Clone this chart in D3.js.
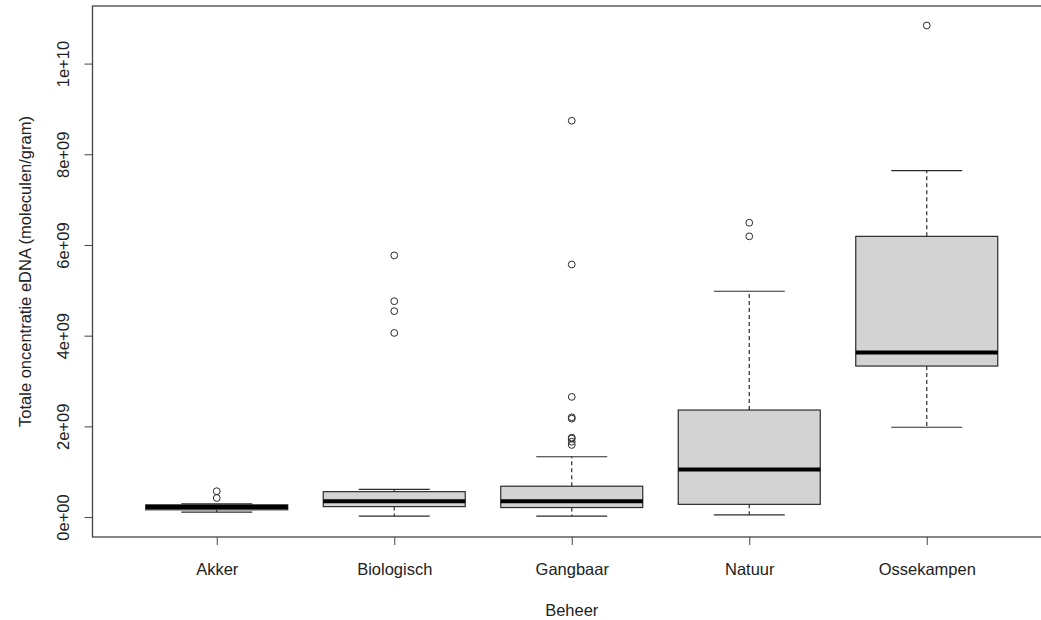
<!DOCTYPE html>
<html>
<head>
<meta charset="utf-8">
<script src="https://cdn.jsdelivr.net/npm/d3@7"></script>
<style>
  body { margin: 0; background: #fff; }
  text { font-family: "Liberation Sans", Arial, sans-serif; fill: #222; }
</style>
</head>
<body>
<script>

// values (molecules/gram)
var categories = ["Akker", "Biologisch", "Gangbaar", "Natuur", "Ossekampen"];
var whiskerLow  = [0.11e9, 0.02e9, 0.02e9, 0.05e9, 1.98e9];
var quart1      = [0.16e9, 0.23e9, 0.21e9, 0.28e9, 3.33e9];
var medians     = [0.22e9, 0.35e9, 0.35e9, 1.05e9, 3.63e9];
var quart3      = [0.27e9, 0.56e9, 0.68e9, 2.36e9, 6.19e9];
var whiskerHigh = [0.29e9, 0.61e9, 1.33e9, 4.98e9, 7.64e9];
var outliers = [
  [0.57e9, 0.42e9],
  [5.77e9, 4.76e9, 4.54e9, 4.06e9],
  [8.74e9, 5.57e9, 2.65e9, 2.20e9, 2.17e9, 1.75e9, 1.73e9, 1.66e9, 1.59e9],
  [6.49e9, 6.19e9],
  [10.84e9]
];
var yTicks = [0, 2e9, 4e9, 6e9, 8e9, 10e9];
var yTickLabels = ["0e+00", "2e+09", "4e+09", "6e+09", "8e+09", "1e+10"];

var svgWidth = 1041, svgHeight = 620;
var plot = { left: 92.5, top: 6, bottom: 537 };
var fontSize = "16.5px";

var svg = d3.select("body").append("svg")
    .attr("width", svgWidth)
    .attr("height", svgHeight);

var xScale = d3.scaleLinear()
    .domain([0.3, 5.7])
    .range([plot.left, plot.left + 5.4 * 177.5]);

var yScale = d3.scaleLinear()
    .domain([-0.44e9, 11.27e9])
    .range([plot.bottom, plot.top]);

var halfBox = xScale(1.4) - xScale(1);
var halfStaple = halfBox / 2;
var lineColor = "#2b2b2b";

// boxes
var boxes = svg.selectAll("g.box")
    .data(categories)
    .enter()
    .append("g")
    .attr("class", "box");

boxes.each(function(c, i) {
    var g = d3.select(this);
    var cx = xScale(i + 1);

    // whiskers
    g.append("line")
        .attr("x1", cx).attr("x2", cx)
        .attr("y1", yScale(quart3[i])).attr("y2", yScale(whiskerHigh[i]))
        .attr("stroke", lineColor).attr("stroke-width", 1.2)
        .attr("stroke-dasharray", "4,3");
    g.append("line")
        .attr("x1", cx).attr("x2", cx)
        .attr("y1", yScale(quart1[i])).attr("y2", yScale(whiskerLow[i]))
        .attr("stroke", lineColor).attr("stroke-width", 1.2)
        .attr("stroke-dasharray", "4,3");

    // staples
    [whiskerHigh[i], whiskerLow[i]].forEach(function(v) {
        g.append("line")
            .attr("x1", cx - halfStaple).attr("x2", cx + halfStaple)
            .attr("y1", yScale(v)).attr("y2", yScale(v))
            .attr("stroke", lineColor).attr("stroke-width", 1.2);
    });

    g.append("rect")
        .attr("x", cx - halfBox)
        .attr("y", yScale(quart3[i]))
        .attr("width", halfBox * 2)
        .attr("height", yScale(quart1[i]) - yScale(quart3[i]))
        .attr("fill", "#d3d3d3")
        .attr("stroke", lineColor)
        .attr("stroke-width", 1.2);

    g.append("line")
        .attr("x1", cx - halfBox).attr("x2", cx + halfBox)
        .attr("y1", yScale(medians[i])).attr("y2", yScale(medians[i]))
        .attr("stroke", "#000").attr("stroke-width", 4);

    g.selectAll("circle")
        .data(outliers[i])
        .enter()
        .append("circle")
        .attr("cx", cx)
        .attr("cy", d => yScale(d))
        .attr("r", 3.4)
        .attr("fill", "none")
        .attr("stroke", lineColor)
        .attr("stroke-width", 1);
});

// frame
svg.append("rect")
    .attr("x", plot.left)
    .attr("y", plot.top)
    .attr("width", xScale(5.7) - plot.left)
    .attr("height", plot.bottom - plot.top)
    .attr("fill", "none")
    .attr("stroke", "#444")
    .attr("stroke-width", 1.3);

// y axis
var leftAxis = d3.axisLeft(yScale)
    .tickValues(yTicks)
    .tickSize(8)
    .tickFormat((d, i) => yTickLabels[i]);

var yAxis = svg.append("g")
    .attr("transform", `translate(${plot.left}, 0)`)
    .call(leftAxis);
yAxis.select(".domain")
    .attr("d", `M0,${yScale(0)}V${yScale(10e9)}`)
    .attr("stroke", "#444");
yAxis.selectAll(".tick line").attr("stroke", "#444");
yAxis.selectAll(".tick text")
    .attr("x", null).attr("dy", null)
    .attr("transform", "translate(-24,0) rotate(-90)")
    .attr("text-anchor", "middle")
    .style("font-size", fontSize)
    .style("font-family", "Liberation Sans, Arial, sans-serif")
    .attr("fill", "#222");

// x axis
var bottomAxis = d3.axisBottom(xScale)
    .tickValues([1, 2, 3, 4, 5])
    .tickSize(8)
    .tickFormat((d, i) => categories[i]);

var xAxis = svg.append("g")
    .attr("transform", `translate(0, ${plot.bottom})`)
    .call(bottomAxis);
xAxis.select(".domain").remove();
xAxis.selectAll(".tick line").attr("stroke", "#444");
xAxis.selectAll(".tick text")
    .attr("y", 38).attr("dy", null)
    .style("font-size", fontSize)
    .style("font-family", "Liberation Sans, Arial, sans-serif")
    .attr("fill", "#222");

// titles
svg.append("text")
    .attr("x", (xScale(1) + xScale(5)) / 2)
    .attr("y", 616)
    .attr("text-anchor", "middle")
    .style("font-size", fontSize)
    .text("Beheer");

svg.append("text")
    .attr("transform", `translate(31, ${(plot.top + plot.bottom) / 2}) rotate(-90)`)
    .attr("text-anchor", "middle")
    .style("font-size", fontSize)
    .text("Totale oncentratie eDNA (moleculen/gram)");

</script>
</body>
</html>
